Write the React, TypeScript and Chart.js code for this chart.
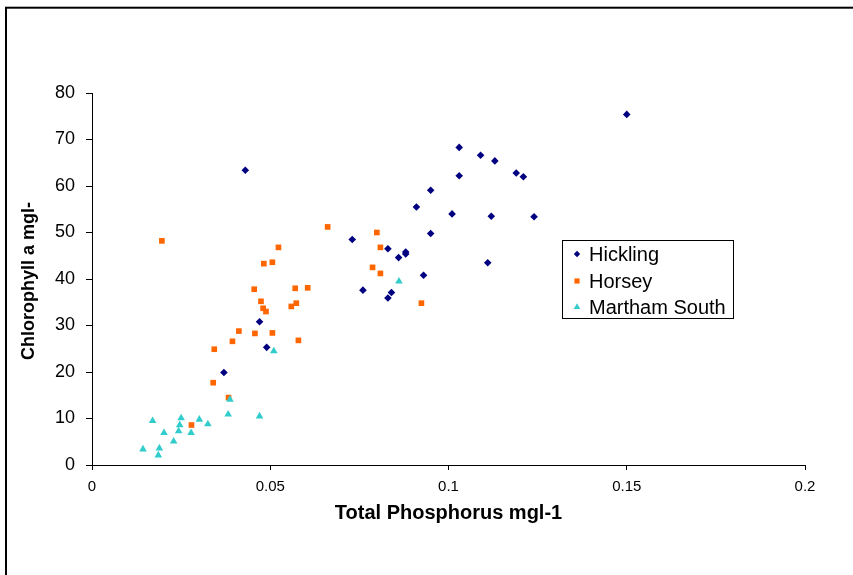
import React, { useEffect, useRef } from 'react';
import { Chart, registerables } from 'chart.js';

Chart.register(...registerables);

const seriesNames = ['Hickling', 'Horsey', 'Martham South'];
const seriesColors = ['#000080', '#FF6600', '#33CCCC'];
const seriesShapes = ['rectRot', 'rect', 'triangle'];

const hicklingTP = [0.150, 0.043, 0.103, 0.109, 0.113, 0.103, 0.119, 0.121, 0.095, 0.091, 0.101, 0.112, 0.124, 0.095, 0.073, 0.083, 0.088, 0.088, 0.086, 0.111, 0.093, 0.076, 0.084, 0.083, 0.047, 0.049, 0.037];
const hicklingChl = [75.4, 63.4, 68.3, 66.6, 65.4, 62.2, 62.8, 62.0, 59.1, 55.5, 54.0, 53.5, 53.4, 49.8, 48.5, 46.5, 45.8, 45.4, 44.6, 43.5, 40.8, 37.6, 37.1, 35.9, 30.8, 25.3, 19.9];

const horseyTP = [0.0196, 0.0661, 0.0799, 0.0523, 0.0809, 0.0482, 0.0506, 0.0787, 0.0809, 0.0455, 0.057, 0.0605, 0.0474, 0.0573, 0.0559, 0.0924, 0.048, 0.0488, 0.0412, 0.0457, 0.0506, 0.0394, 0.0579, 0.0343, 0.034, 0.0383, 0.0279];
const horseyChl = [48.2, 51.2, 50.0, 46.8, 46.8, 43.3, 43.6, 42.5, 41.2, 37.8, 38.0, 38.1, 35.2, 34.8, 34.1, 34.8, 33.7, 33.0, 28.8, 28.3, 28.4, 26.6, 26.8, 24.9, 17.7, 14.5, 8.6];

const marthamTP = [0.0861, 0.051, 0.0387, 0.0382, 0.047, 0.017, 0.025, 0.0301, 0.0325, 0.0246, 0.0243, 0.0202, 0.0278, 0.0229, 0.0143, 0.0189, 0.0186];
const marthamChl = [39.5, 24.5, 14.1, 10.9, 10.5, 9.5, 10.1, 9.8, 8.8, 8.6, 7.3, 6.9, 6.9, 5.1, 3.4, 3.6, 2.1];

const xTickValues = [0, 0.05, 0.1, 0.15, 0.2];
const xTickLabels = ['0', '0.05', '0.1', '0.15', '0.2'];
const yTickValues = [0, 10, 20, 30, 40, 50, 60, 70, 80];
const yTickLabels = ['0', '10', '20', '30', '40', '50', '60', '70', '80'];

const xTitle = 'Total Phosphorus mgl-1';
const yTitle = 'Chlorophyll a mgl-';

const FONT = '"Liberation Sans", Arial, sans-serif';

const pts = (xs: number[], ys: number[]) => xs.map((x, i) => ({ x, y: ys[i] }));

const decorPlugin = {
  id: 'decor',
  afterDraw(chart: any) {
    const ctx = chart.ctx;
    const area = chart.chartArea;
    ctx.save();
    // outer frame (extends past the canvas right/bottom)
    ctx.strokeStyle = '#000';
    ctx.lineWidth = 2;
    ctx.strokeRect(6, 7.7, 1000, 1000);

    // axis titles
    ctx.fillStyle = '#000';
    ctx.font = `bold 20px ${FONT}`;
    ctx.textAlign = 'center';
    ctx.textBaseline = 'middle';
    ctx.fillText(xTitle, (area.left + area.right) / 2, 513);

    ctx.save();
    ctx.translate(29, (area.top + area.bottom) / 2 + 2);
    ctx.rotate(-Math.PI / 2);
    ctx.font = `bold 18px ${FONT}`;
    ctx.fillText(yTitle, 0, 0);
    ctx.restore();

    // legend
    const lx = 562.5, ly = 240.5, lw = 171, lh = 78;
    ctx.fillStyle = '#fff';
    ctx.fillRect(lx, ly, lw, lh);
    ctx.strokeStyle = '#000';
    ctx.lineWidth = 1;
    ctx.strokeRect(lx, ly, lw, lh);
    const rowsY = [254, 281, 307];
    seriesNames.forEach((name, i) => {
      const y = rowsY[i];
      ctx.fillStyle = seriesColors[i];
      ctx.beginPath();
      const cx = 577;
      if (seriesShapes[i] === 'rectRot') {
        const r = 3.2;
        ctx.moveTo(cx, y - r); ctx.lineTo(cx + r, y); ctx.lineTo(cx, y + r); ctx.lineTo(cx - r, y); ctx.closePath();
      } else if (seriesShapes[i] === 'rect') {
        ctx.rect(cx - 2.6, y - 2.6, 5.2, 5.2);
      } else {
        const r = 3.8;
        ctx.moveTo(cx, y - r); ctx.lineTo(cx + r * 0.866, y + r / 2); ctx.lineTo(cx - r * 0.866, y + r / 2); ctx.closePath();
      }
      ctx.fill();
      ctx.fillStyle = '#000';
      ctx.font = `20px ${FONT}`;
      ctx.textAlign = 'left';
      ctx.textBaseline = 'middle';
      ctx.fillText(name, 589, y + 1);
    });
    ctx.restore();
  },
};

export default function App() {
  const canvasRef = useRef<HTMLCanvasElement | null>(null);

  useEffect(() => {
    document.body.style.margin = '0';
    const canvas = canvasRef.current;
    if (!canvas) return;
    const datasets = [
      { label: seriesNames[0], data: pts(hicklingTP, hicklingChl), pointRadius: 3.8, order: 3 },
      { label: seriesNames[1], data: pts(horseyTP, horseyChl), pointRadius: 4.0, order: 2 },
      { label: seriesNames[2], data: pts(marthamTP, marthamChl), pointRadius: 4.4, order: 1 },
    ].map((d, i) => ({
      ...d,
      pointStyle: seriesShapes[i],
      backgroundColor: seriesColors[i],
      borderColor: seriesColors[i],
      borderWidth: 0,
      pointBorderWidth: 0,
      showLine: false,
    }));

    const chart = new Chart(canvas, {
      type: 'scatter',
      data: { datasets: datasets as any },
      options: {
        animation: false,
        responsive: false,
        maintainAspectRatio: false,
        layout: { padding: { top: 93, right: 48, left: 0, bottom: 0 } },
        plugins: { legend: { display: false }, tooltip: { enabled: false }, title: { display: false } },
        scales: {
          x: {
            type: 'linear',
            min: 0,
            max: 0.2,
            afterFit: (s: any) => { s.height = 110; },
            afterBuildTicks: (s: any) => { s.ticks = xTickValues.map((v) => ({ value: v })); },
            ticks: {
              callback: (_v: any, i: number) => xTickLabels[i],
              color: '#000',
              font: { family: FONT, size: 15 },
              padding: 8,
              maxRotation: 0,
            },
            grid: { drawOnChartArea: false, drawTicks: true, tickLength: 5, color: '#000', lineWidth: 1 },
            border: { display: true, color: '#000', width: 1 },
          },
          y: {
            type: 'linear',
            min: 0,
            max: 80,
            afterFit: (s: any) => { s.width = 92; },
            afterBuildTicks: (s: any) => { s.ticks = yTickValues.map((v) => ({ value: v })); },
            ticks: {
              callback: (_v: any, i: number) => yTickLabels[i],
              color: '#000',
              font: { family: FONT, size: 18 },
              padding: 11,
            },
            grid: { drawOnChartArea: false, drawTicks: true, tickLength: 6, color: '#000', lineWidth: 1 },
            border: { display: true, color: '#000', width: 1 },
          },
        },
      },
      plugins: [decorPlugin],
    });
    return () => chart.destroy();
  }, []);

  return (
    <div style={{ position: 'absolute', left: 0, top: 0, width: 853, height: 575, background: '#fff' }}>
      <canvas ref={canvasRef} width={853} height={575} style={{ display: 'block', width: 853, height: 575 }} />
    </div>
  );
}
